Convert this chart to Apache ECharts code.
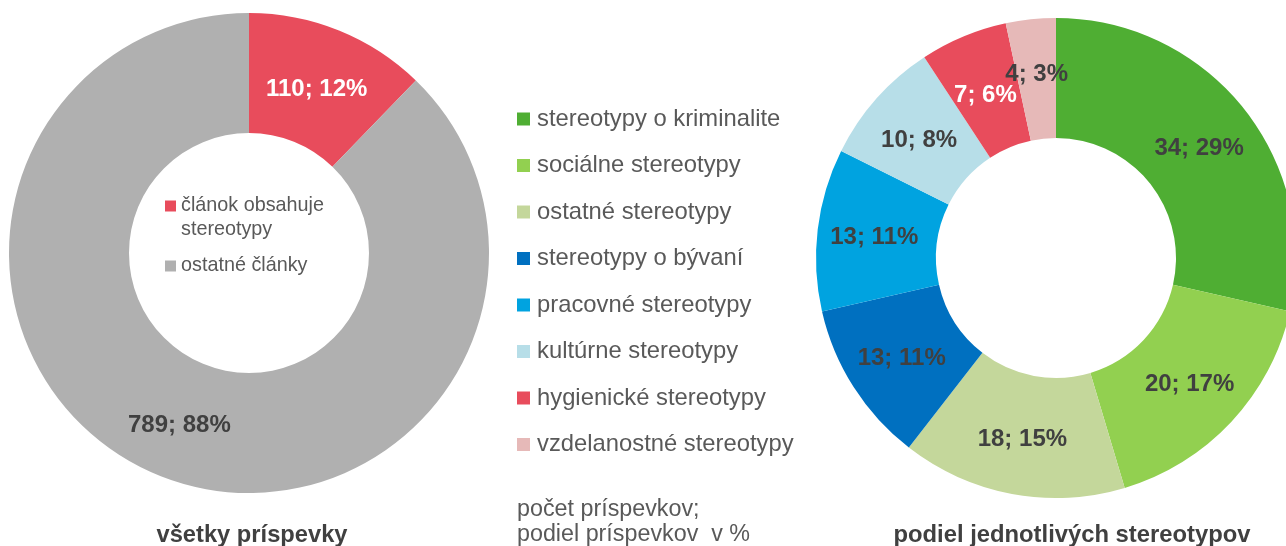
<!DOCTYPE html>
<html>
<head>
<meta charset="utf-8">
<script src="https://cdn.jsdelivr.net/npm/echarts@6/dist/echarts.min.js"></script>
<style>
  html, body { margin: 0; padding: 0; background: #fff; }
  #chart { width: 1286px; height: 546px; }
</style>
</head>
<body>
<div id="chart"></div>
<script>
// ľavý graf: všetky príspevky
const allNames = ['článok obsahuje stereotypy', 'ostatné články']
const allValues = [110, 789]
const allColors = ['#E84C5C', '#B0B0B0']
const allLabelColors = ['#ffffff', '#404040']

// pravý graf: podiel jednotlivých stereotypov
const typeNames = [
  'stereotypy o kriminalite',
  'sociálne stereotypy',
  'ostatné stereotypy',
  'stereotypy o bývaní',
  'pracovné stereotypy',
  'kultúrne stereotypy',
  'hygienické stereotypy',
  'vzdelanostné stereotypy'
]
const typeValues = [34, 20, 18, 13, 13, 10, 7, 4]
const typeColors = ['#4FAE33', '#92D050', '#C4D79B', '#0070C0', '#00A3E0', '#B7DEE8', '#E84C5C', '#E6B9B8']
const typeLabelColors = ['#404040', '#404040', '#404040', '#404040', '#404040', '#404040', '#ffffff', '#404040']

const FONT = '"Liberation Sans", Arial, sans-serif'
const fmt = (p) => `${p.value}; ${Math.round(p.percent)}%`

const chart = echarts.init(document.getElementById('chart'))

const pieLabel = (offset) => ({
  show: true,
  position: 'inside',
  formatter: fmt,
  offset,
  fontFamily: FONT,
  fontSize: 24,
  fontWeight: 'bold'
})

// malé posuny popisov, ako ich rozložil Excel (hlavne pri tesných výsekoch hore)
const nudge = {
  'článok obsahuje stereotypy': [-1, 6],
  'stereotypy o kriminalite': [0, 4],
  'kultúrne stereotypy': [0, 4],
  'hygienické stereotypy': [0, 6],
  'vzdelanostné stereotypy': [0, -2]
}
const itemLabel = (name, color) => nudge[name] ? { color, offset: nudge[name] } : { color }

chart.setOption({
  backgroundColor: '#fff',
  animation: false,
  title: [
    {
      text: 'všetky príspevky',
      left: 252, top: 523, textAlign: 'center', padding: 0,
      textStyle: { fontFamily: FONT, fontSize: 23.7, fontWeight: 'bold', color: '#404040' }
    },
    {
      text: 'podiel jednotlivých stereotypov',
      left: 1072, top: 523, textAlign: 'center', padding: 0,
      textStyle: { fontFamily: FONT, fontSize: 23.8, fontWeight: 'bold', color: '#404040' }
    },
    {
      text: 'počet príspevkov;\npodiel príspevkov  v %',
      left: 517, top: 497, padding: 0,
      textStyle: { fontFamily: FONT, fontSize: 23.3, fontWeight: 'normal', color: '#595959', lineHeight: 25 }
    }
  ],
  legend: [
    {
      data: [allNames[0]],
      orient: 'vertical', left: 165, top: 170, padding: 0,
      selectedMode: false, icon: 'rect', itemWidth: 11, itemHeight: 11,
      formatter: () => ' \nčlánok obsahuje\nstereotypy',
      textStyle: { fontFamily: FONT, fontSize: 19.8, color: '#595959', lineHeight: 24 }
    },
    {
      data: [allNames[1]],
      orient: 'vertical', left: 165, top: 254, padding: 0,
      selectedMode: false, icon: 'rect', itemWidth: 11, itemHeight: 11,
      textStyle: { fontFamily: FONT, fontSize: 19.8, color: '#595959', lineHeight: 24 }
    },
    {
      data: typeNames,
      orient: 'vertical', left: 517, top: 107, padding: 0,
      selectedMode: false, icon: 'rect', itemWidth: 13, itemHeight: 13, itemGap: 22.5,
      textStyle: { fontFamily: FONT, fontSize: 23.8, color: '#595959', lineHeight: 24, padding: [0, 0, 0, 2] }
    }
  ],
  series: [
    {
      type: 'pie',
      center: [249, 253],
      radius: [120, 240],
      startAngle: 90,
      clockwise: true,
      silent: true,
      label: pieLabel([-1, 3]),
      labelLine: { show: false },
      labelLayout: { hideOverlap: false },
      data: allNames.map((name, i) => ({
        name, value: allValues[i],
        itemStyle: { color: allColors[i] },
        label: itemLabel(name, allLabelColors[i])
      }))
    },
    {
      type: 'pie',
      center: [1056, 258],
      radius: [120, 240],
      startAngle: 90,
      clockwise: true,
      silent: true,
      label: pieLabel([0, 1.5]),
      labelLine: { show: false },
      labelLayout: { hideOverlap: false },
      data: typeNames.map((name, i) => ({
        name, value: typeValues[i],
        itemStyle: { color: typeColors[i] },
        label: itemLabel(name, typeLabelColors[i])
      }))
    }
  ]
})

window.addEventListener('resize', () => chart.resize())
</script>
</body>
</html>
